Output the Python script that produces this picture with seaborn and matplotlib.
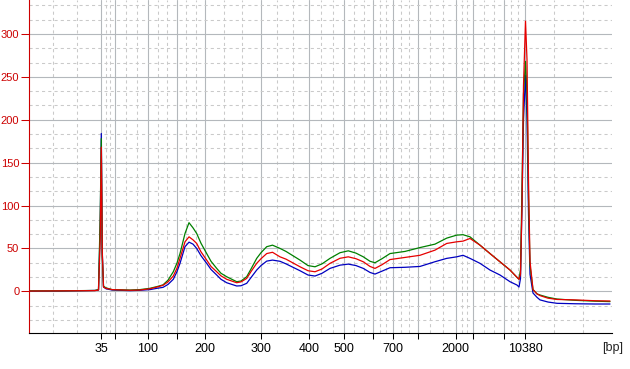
import matplotlib
matplotlib.use("Agg")
import matplotlib.pyplot as plt
import numpy as np
import pandas as pd
import seaborn as sns
from matplotlib.ticker import FixedLocator, MultipleLocator

# Ladder (bp) and its migration positions on the x scale
ladder_bp = [35, 50, 100, 150, 200, 300, 400, 500, 600, 700, 1000, 2000, 3000, 7000, 10380]
ladder_pos = [101, 115, 148, 177, 205, 260.7, 309.3, 344.3, 373.3, 392.7, 417.7, 455.7, 473.3, 504.3, 525.3]
labelled_bp = [35, 100, 200, 300, 400, 500, 700, 2000, 10380]

# Migration positions of the sampled trace points
mig = [29, 60, 95, 98.5, 100.2, 101.3, 102.3, 103.5, 106, 112, 130, 140, 150, 157, 163,
       168, 173.3, 177, 180, 185, 189, 193, 196.7, 201, 206.7, 211, 216.7, 221, 226.7,
       236.7, 241, 246.7, 251, 256.7, 261, 266.7, 272.5, 280, 286, 300, 308, 315, 322,
       330, 340, 348.3, 356, 363.3, 370, 375, 382, 390, 405, 420, 435, 446.7, 456.7,
       463, 470, 480, 490, 500, 510, 517, 519, 520.5, 522, 523.5, 525.5, 527, 528.5,
       530, 533, 537, 540, 548, 557, 575, 595, 610]

green = [0.5, 0.5, 1, 2, 88, 178, 40, 6, 4, 2, 1.5, 2, 3.5, 5.5, 7.5,
         13, 22.8, 33, 44, 67.4, 80, 74, 67.4, 56, 44, 35, 26.7, 21, 17,
         11.2, 12, 17, 26, 38.4, 45, 52, 53.8, 50, 46.5, 36.4, 30, 28.6, 32,
         38.4, 45, 47.2, 44.5, 40.2, 35, 33.3, 38, 44, 46.5, 51, 55, 62, 65.5,
         66, 63.5, 53.8, 44, 34.4, 24.8, 16.3, 14, 25, 120, 230, 268, 230, 110,
         30, 2, -3, -4.3, -7, -9, -10.5, -11.5, -12]

red = [0.3, 0.5, 0.8, 1.5, 60, 168, 45, 5, 3.5, 2, 1.2, 1.5, 3, 5, 7,
       11, 17.8, 27, 38.4, 57.7, 63.5, 60, 55.8, 46, 36.4, 29, 22.8, 18, 14,
       10, 11, 15, 23, 32.6, 38, 44, 45.5, 40.2, 37.5, 28.6, 24, 22.8, 26,
       32.6, 38.5, 40.2, 38, 34.4, 29, 26.7, 31, 37, 39.5, 42, 48, 55.8, 57.7,
       58.5, 61.6, 53.8, 44, 34.4, 24.8, 16.3, 14, 20, 100, 240, 315, 270, 130,
       35, 2, -3, -5, -8, -9.5, -10, -11, -11.3]

blue = [0.2, 0.3, 1, 1.5, 75, 184, 45, 5, 3, 1.5, 0.8, 1.2, 2, 3.5, 4.6,
        8, 14, 23, 32.6, 52, 57.3, 55, 50, 41.5, 32.6, 25.5, 19, 14, 10,
        6.2, 6.5, 9.3, 16, 24.8, 30, 35.2, 36.4, 35, 32, 24, 19, 17.8, 21,
        26.7, 30.5, 31.7, 30, 26.7, 22, 20.1, 23.5, 27.5, 28, 29, 34.5, 38.4, 40.2,
        42, 38.4, 32.6, 24.8, 19, 11.2, 7.3, 5, 15, 100, 200, 252, 200, 90,
        20, -2, -7, -10, -12.5, -14, -14.5, -14.8, -14.8]

samples = ["blue", "green", "red"]
colors = {"blue": "#0000c0", "green": "#008000", "red": "#e60000"}

df = pd.concat([
    pd.DataFrame({"mig": mig, "signal": vals, "sample": name})
    for name, vals in zip(samples, [blue, green, red])
], ignore_index=True)

sns.set_style("white")
plt.rcParams["font.family"] = ["Liberation Sans", "DejaVu Sans"]

fig = plt.figure(figsize=(6.3, 3.69), dpi=100)
ax = fig.add_axes([29 / 630, 36 / 369, 583 / 630, 333 / 369])

sns.lineplot(data=df, x="mig", y="signal", hue="sample", hue_order=samples,
             palette=colors, estimator=None, sort=False, linewidth=0.9,
             legend=False, ax=ax)

x0, x1 = 29, 612
ax.set_xlim(x0, x1)
ax.set_ylim(-48.6, 339.6)

# x ticks at ladder positions, minor grid at thirds between them
ax.xaxis.set_major_locator(FixedLocator(ladder_pos))
ax.set_xticklabels([str(b) if b in labelled_bp else "" for b in ladder_bp])
edges = [x0] + ladder_pos + [x1]
minor_x = []
for a, b in zip(edges[:-1], edges[1:]):
    minor_x += [a + (b - a) / 3, a + 2 * (b - a) / 3]
ax.xaxis.set_minor_locator(FixedLocator(minor_x))

ax.yaxis.set_major_locator(FixedLocator([0, 50, 100, 150, 200, 250, 300]))
ax.yaxis.set_minor_locator(MultipleLocator(50 / 3))

ax.set_xlabel("")
ax.set_ylabel("")

ax.grid(which="major", color="#b4b8bc", linewidth=0.8, linestyle="-")
ax.grid(which="minor", color="#cacaca", linewidth=0.75, linestyle=(0, (3, 3)))
ax.set_axisbelow(True)

ax.tick_params(axis="x", which="major", length=4.5, width=0.75, color="black",
               labelsize=9, pad=2.5, labelcolor="black", bottom=True)
ax.tick_params(axis="y", which="major", length=6, width=0.75, color="#cc0000",
               labelsize=8, pad=1, labelcolor="#cc0000", left=True)
ax.tick_params(which="minor", length=0)

for s in ["top", "right"]:
    ax.spines[s].set_visible(False)
ax.spines["left"].set_color("#cc0000")
ax.spines["left"].set_linewidth(0.8)
ax.spines["bottom"].set_color("black")
ax.spines["bottom"].set_linewidth(0.8)

fig.text(612.5 / 630, 1 - 348 / 369, "[bp]", ha="center", va="center", fontsize=9)

fig.savefig("out.png", dpi=100)
